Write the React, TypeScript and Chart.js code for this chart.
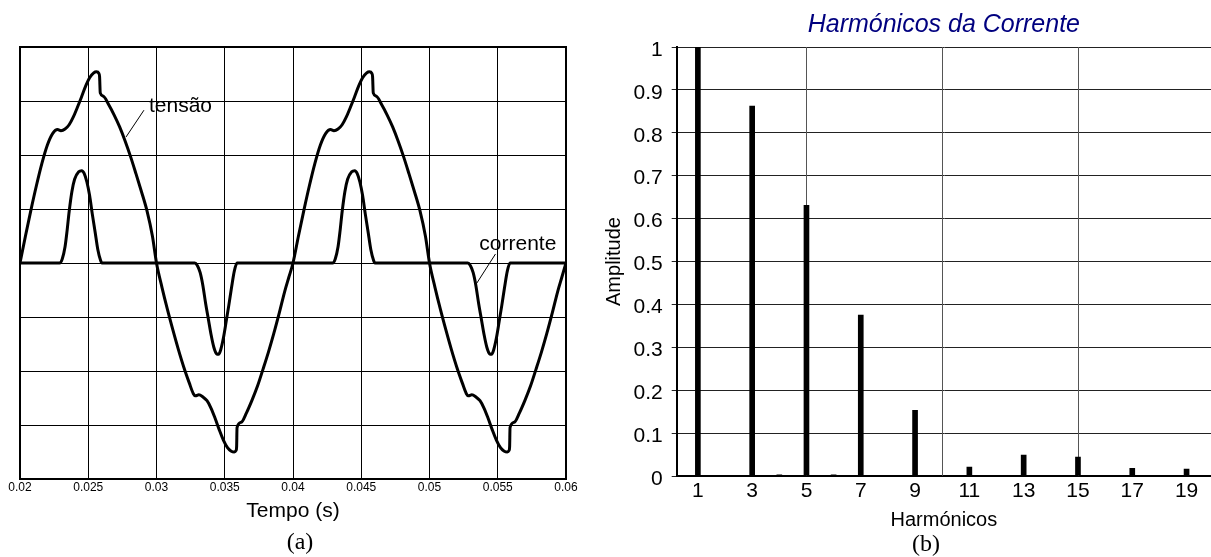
import React, { useEffect, useRef } from "react";
import { Chart, registerables } from "chart.js";

Chart.register(...registerables);

const FONT = "'Liberation Sans', Arial, Helvetica, sans-serif";
const SERIF = "'Liberation Serif', 'Times New Roman', serif";

// ---------- Panel (a): waveforms ----------
const timeTickValues = [0.02, 0.025, 0.03, 0.035, 0.04, 0.045, 0.05, 0.055, 0.06];
const timeTickLabels = ["0.02", "0.025", "0.03", "0.035", "0.04", "0.045", "0.05", "0.055", "0.06"];
const levelGridValues = [-4, -3, -2, -1, 0, 1, 2, 3, 4];

const tensaoTime = [
  0.0200, 0.0204, 0.0208, 0.0212, 0.0216, 0.0220, 0.0224, 0.02275, 0.0230, 0.0233,
  0.0236, 0.0239, 0.0242, 0.0245, 0.0248, 0.0251, 0.0254, 0.0256, 0.02578, 0.02583,
  0.02588, 0.0261, 0.0265, 0.0269, 0.0273, 0.0277, 0.0281, 0.0285, 0.0289, 0.0293,
  0.0297, 0.0300, 0.0304, 0.0308, 0.0312, 0.0316, 0.0320, 0.0324, 0.0327, 0.03285,
  0.0331, 0.0334, 0.0337, 0.0340, 0.0343, 0.0346, 0.0349, 0.0352, 0.03545, 0.0357,
  0.03583, 0.03587, 0.0359, 0.0362, 0.0366, 0.0370, 0.0374, 0.0378, 0.0382, 0.0386,
  0.0390, 0.0394, 0.0397, 0.0400,
  0.0404, 0.0408, 0.0412, 0.0416, 0.0420, 0.0424, 0.04275, 0.0430, 0.0433,
  0.0436, 0.0439, 0.0442, 0.0445, 0.0448, 0.0451, 0.0454, 0.0456, 0.04578, 0.04583,
  0.04588, 0.0461, 0.0465, 0.0469, 0.0473, 0.0477, 0.0481, 0.0485, 0.0489, 0.0493,
  0.0497, 0.0500, 0.0504, 0.0508, 0.0512, 0.0516, 0.0520, 0.0524, 0.0527, 0.05285,
  0.0531, 0.0534, 0.0537, 0.0540, 0.0543, 0.0546, 0.0549, 0.0552, 0.05545, 0.0557,
  0.05583, 0.05587, 0.0559, 0.0562, 0.0566, 0.0570, 0.0574, 0.0578, 0.0582, 0.0586,
  0.0590, 0.0594, 0.0597, 0.0600,
];
const tensaoValue = [
  0, 0.50, 0.98, 1.43, 1.84, 2.18, 2.40, 2.47, 2.45, 2.48,
  2.56, 2.70, 2.88, 3.07, 3.27, 3.43, 3.52, 3.54, 3.51, 3.45,
  3.15, 3.09, 2.93, 2.74, 2.52, 2.26, 1.97, 1.65, 1.32, 0.97,
  0.50, 0, -0.45, -0.86, -1.24, -1.60, -1.93, -2.22, -2.42, -2.46,
  -2.44, -2.48, -2.55, -2.69, -2.88, -3.09, -3.28, -3.42, -3.48, -3.50,
  -3.47, -3.40, -3.05, -2.95, -2.77, -2.54, -2.28, -1.97, -1.65, -1.30,
  -0.92, -0.52, -0.26, 0,
  0.50, 0.98, 1.43, 1.84, 2.18, 2.40, 2.47, 2.45, 2.48,
  2.56, 2.70, 2.88, 3.07, 3.27, 3.43, 3.52, 3.54, 3.51, 3.45,
  3.15, 3.09, 2.93, 2.74, 2.52, 2.26, 1.97, 1.65, 1.32, 0.97,
  0.50, 0, -0.45, -0.86, -1.24, -1.60, -1.93, -2.22, -2.42, -2.46,
  -2.44, -2.48, -2.55, -2.69, -2.88, -3.09, -3.28, -3.42, -3.48, -3.50,
  -3.47, -3.40, -3.05, -2.95, -2.77, -2.54, -2.28, -1.97, -1.65, -1.30,
  -0.92, -0.52, -0.26, 0,
];

const correnteTime = [
  0.0200, 0.0229, 0.0231, 0.0233, 0.02345, 0.0236, 0.0238, 0.0240, 0.0243, 0.02452,
  0.0247, 0.0249, 0.0251, 0.0253, 0.0255, 0.0257, 0.0259, 0.0260,
  0.0328, 0.0330, 0.0332, 0.0334, 0.0336, 0.0338, 0.0340, 0.0342, 0.0344, 0.03455,
  0.0347, 0.0349, 0.0351, 0.0353, 0.0355, 0.0357, 0.0359,
  0.0429, 0.0431, 0.0433, 0.04345, 0.0436, 0.0438, 0.0440, 0.0443, 0.04452,
  0.0447, 0.0449, 0.0451, 0.0453, 0.0455, 0.0457, 0.0459, 0.0460,
  0.0528, 0.0530, 0.0532, 0.0534, 0.0536, 0.0538, 0.0540, 0.0542, 0.0544, 0.05455,
  0.0547, 0.0549, 0.0551, 0.0553, 0.0555, 0.0557, 0.0559, 0.0600,
];
const correnteValue = [
  0, 0, 0.08, 0.30, 0.60, 0.95, 1.32, 1.55, 1.69, 1.71,
  1.66, 1.50, 1.25, 0.90, 0.58, 0.25, 0.05, 0,
  0, -0.05, -0.18, -0.42, -0.75, -1.04, -1.33, -1.56, -1.68, -1.69,
  -1.61, -1.39, -1.09, -0.78, -0.45, -0.15, 0,
  0, 0.08, 0.30, 0.60, 0.95, 1.32, 1.55, 1.69, 1.71,
  1.66, 1.50, 1.25, 0.90, 0.58, 0.25, 0.05, 0,
  0, -0.05, -0.18, -0.42, -0.75, -1.04, -1.33, -1.56, -1.68, -1.69,
  -1.61, -1.39, -1.09, -0.78, -0.45, -0.15, 0, 0,
];

const waveLabels = ["tensão", "corrente"];

// ---------- Panel (b): harmonics ----------
const harmonicOrders = [1, 2, 3, 4, 5, 6, 7, 8, 9, 10, 11, 12, 13, 14, 15, 16, 17, 18, 19];
const harmonicAmplitudes = [
  1.0, 0, 0.862, 0.003, 0.631, 0.003, 0.375, 0, 0.153, 0,
  0.021, 0.001, 0.049, 0, 0.044, 0, 0.018, 0, 0.016,
];
const harmonicTickValues = [1, 3, 5, 7, 9, 11, 13, 15, 17, 19];
const harmonicGridValues = [5, 10, 15];
const amplitudeTickValues = [0, 0.1, 0.2, 0.3, 0.4, 0.5, 0.6, 0.7, 0.8, 0.9, 1];
const amplitudeTickLabels = ["0", "0.1", "0.2", "0.3", "0.4", "0.5", "0.6", "0.7", "0.8", "0.9", "1"];

// annotation placements (data coordinates) for panel (a)
const annotations = [
  { text: waveLabels[0], at: [0.02945, 2.8], from: [0.02908, 2.83], to: [0.027766, 2.333] },
  { text: waveLabels[1], at: [0.053648, 0.24], from: [0.054835, 0.167], to: [0.053458, -0.376] },
];

const waveOverlay = {
  id: "waveOverlay",
  afterDatasetsDraw(chart: any) {
    const { ctx, chartArea: a, scales } = chart;
    const x = scales.x;
    const y = scales.y;
    ctx.save();
    ctx.strokeStyle = "#000";
    ctx.lineWidth = 2;
    ctx.strokeRect(a.left, a.top, a.right - a.left, a.bottom - a.top);
    ctx.lineWidth = 1;
    ctx.fillStyle = "#000";
    ctx.font = `21px ${FONT}`;
    ctx.textBaseline = "alphabetic";
    ctx.textAlign = "left";
    for (const an of annotations) {
      ctx.beginPath();
      ctx.moveTo(x.getPixelForValue(an.from[0]), y.getPixelForValue(an.from[1]));
      ctx.lineTo(x.getPixelForValue(an.to[0]), y.getPixelForValue(an.to[1]));
      ctx.stroke();
      ctx.fillText(an.text, x.getPixelForValue(an.at[0]), y.getPixelForValue(an.at[1]));
    }
    ctx.restore();
  },
};

const harmonicGrid = {
  id: "harmonicGrid",
  beforeDatasetsDraw(chart: any) {
    const { ctx, chartArea: a, scales } = chart;
    ctx.save();
    ctx.strokeStyle = "#555";
    ctx.lineWidth = 1;
    for (const g of harmonicGridValues) {
      const px = Math.round(scales.x.getPixelForValue(g)) + 0.5;
      ctx.beginPath();
      ctx.moveTo(px, a.top);
      ctx.lineTo(px, a.bottom);
      ctx.stroke();
    }
    ctx.restore();
  },
};

function WaveChart() {
  const ref = useRef<HTMLCanvasElement | null>(null);
  useEffect(() => {
    if (!ref.current) return;
    const mk = (ts: number[], vs: number[]) => ts.map((t, i) => ({ x: t, y: vs[i] }));
    const chart = new Chart(ref.current, {
      type: "line",
      data: {
        datasets: [
          {
            label: waveLabels[0],
            data: mk(tensaoTime, tensaoValue),
            borderColor: "#000",
            borderWidth: 3,
            pointRadius: 0,
            cubicInterpolationMode: "monotone",
            borderJoinStyle: "round",
            borderCapStyle: "round",
            fill: false,
          },
          {
            label: waveLabels[1],
            data: mk(correnteTime, correnteValue),
            borderColor: "#000",
            borderWidth: 3,
            pointRadius: 0,
            cubicInterpolationMode: "monotone",
            borderJoinStyle: "round",
            borderCapStyle: "round",
            fill: false,
          },
        ],
      } as any,
      options: {
        animation: false,
        responsive: false,
        maintainAspectRatio: false,
        layout: { padding: { left: 20, top: 47, right: 34, bottom: 33 } },
        plugins: { legend: { display: false }, tooltip: { enabled: false } },
        scales: {
          x: {
            type: "linear",
            min: 0.02,
            max: 0.06,
            afterBuildTicks: (s: any) => {
              s.ticks = timeTickValues.map((v) => ({ value: v }));
            },
            ticks: {
              autoSkip: false,
              maxRotation: 0,
              padding: 5,
              color: "#000",
              font: { family: FONT, size: 12, lineHeight: 0.6 },
              callback: (_v: any, i: number) => timeTickLabels[i],
            },
            grid: { color: "#000", lineWidth: 1, drawTicks: false },
            border: { display: false },
            title: {
              display: true,
              text: "Tempo (s)",
              color: "#000",
              font: { family: FONT, size: 21 },
              padding: { top: 2.6, bottom: 0 },
            },
          },
          y: {
            type: "linear",
            min: -4,
            max: 4,
            afterBuildTicks: (s: any) => {
              s.ticks = levelGridValues.map((v) => ({ value: v }));
            },
            ticks: { display: false },
            grid: { color: "#000", lineWidth: 1, drawTicks: false },
            border: { display: false },
          },
        },
      } as any,
      plugins: [waveOverlay],
    });
    return () => chart.destroy();
  }, []);
  return <canvas ref={ref} width={600} height={557} style={{ position: "absolute", left: 0, top: 0, width: 600, height: 557 }} />;
}

function HarmonicChart() {
  const ref = useRef<HTMLCanvasElement | null>(null);
  useEffect(() => {
    if (!ref.current) return;
    const chart = new Chart(ref.current, {
      type: "bar",
      data: {
        datasets: [
          {
            label: "Amplitude",
            data: harmonicOrders.map((h, i) => ({ x: h, y: harmonicAmplitudes[i] })),
            backgroundColor: "#000",
            borderWidth: 0,
            barThickness: 5,
          },
        ],
      } as any,
      options: {
        animation: false,
        responsive: false,
        maintainAspectRatio: false,
        layout: { padding: { left: 0, top: 0, right: 0, bottom: 25 } },
        plugins: {
          legend: { display: false },
          tooltip: { enabled: false },
          title: {
            display: true,
            fullSize: false,
            text: "Harmónicos da Corrente",
            color: "#00007f",
            font: { family: FONT, size: 25, style: "italic", weight: "normal" },
            padding: { top: 10.5, bottom: 6.5 },
          },
        },
        scales: {
          x: {
            type: "linear",
            min: 0.22,
            max: 19.9,
            offset: false,
            afterBuildTicks: (s: any) => {
              s.ticks = harmonicTickValues.map((v) => ({ value: v }));
            },
            ticks: {
              autoSkip: false,
              maxRotation: 0,
              padding: 9,
              color: "#000",
              font: { family: FONT, size: 21, lineHeight: 0.6 },
              callback: (v: any) => String(v),
            },
            grid: { display: false, drawTicks: false, offset: false },
            border: { display: true, color: "#000", width: 2 },
            title: {
              display: true,
              text: "Harmónicos",
              color: "#000",
              font: { family: FONT, size: 20 },
              padding: { top: 1.4, bottom: 0 },
            },
          },
          y: {
            type: "linear",
            min: 0,
            max: 1,
            afterBuildTicks: (s: any) => {
              s.ticks = amplitudeTickValues.map((v) => ({ value: v }));
            },
            ticks: {
              padding: 9,
              labelOffset: 3,
              color: "#000",
              font: { family: FONT, size: 21 },
              callback: (_v: any, i: number) => amplitudeTickLabels[i],
            },
            grid: { color: "#222", lineWidth: 1, drawTicks: true, tickLength: 5 },
            border: { display: true, color: "#000", width: 2 },
            title: {
              display: true,
              text: "Amplitude",
              color: "#000",
              font: { family: FONT, size: 20, lineHeight: 1 },
              padding: { top: 4.5, bottom: 0 },
            },
          },
        },
      } as any,
      plugins: [harmonicGrid],
    });
    return () => chart.destroy();
  }, []);
  return <canvas ref={ref} width={611} height={557} style={{ position: "absolute", left: 600, top: 0, width: 611, height: 557 }} />;
}

export default function App() {
  const cap: React.CSSProperties = {
    position: "absolute",
    fontFamily: SERIF,
    fontSize: 24,
    lineHeight: "26px",
    textAlign: "center",
    width: 80,
    color: "#000",
  };
  return (
    <div style={{ position: "fixed", left: 0, top: 0, width: 1211, height: 557, background: "#fff", overflow: "hidden" }}>
      <WaveChart />
      <HarmonicChart />
      <div style={{ ...cap, left: 300 - 40, top: 528 }}>(a)</div>
      <div style={{ ...cap, left: 926 - 40, top: 530 }}>(b)</div>
    </div>
  );
}
